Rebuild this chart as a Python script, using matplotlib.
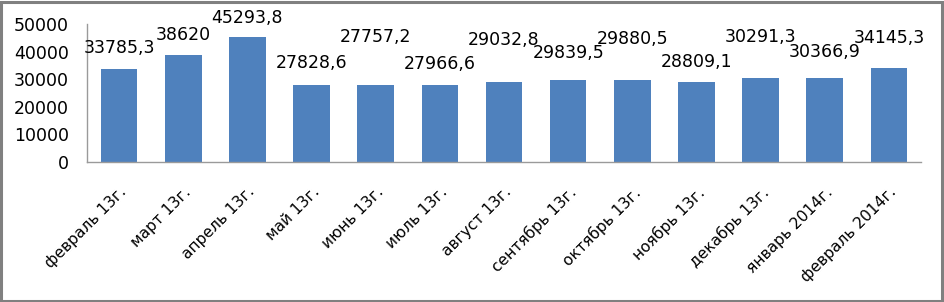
import matplotlib
matplotlib.use("Agg")
import matplotlib.pyplot as plt
from matplotlib.patches import Rectangle

categories = ["февраль 13г.", "март 13г.", "апрель 13г.", "май 13г.", "июнь 13г.",
              "июль 13г.", "август 13г.", "сентябрь 13г.", "октябрь 13г.", "ноябрь 13г.",
              "декабрь 13г.", "январь 2014г.", "февраль 2014г."]
values = [33785.3, 38620, 45293.8, 27828.6, 27757.2, 27966.6, 29032.8,
          29839.5, 29880.5, 28809.1, 30291.3, 30366.9, 34145.3]
yticks = [0, 10000, 20000, 30000, 40000, 50000]

# label offsets above bar tops (pixels) -- styling only
label_offsets = [21, 20, 19, 22, 48, 21, 42, 27, 41, 20, 41, 26, 30]

plt.rcParams['font.family'] = ['DejaVu Sans']
FS_NUM = 12.5
FS_CAT = 11.2

fig = plt.figure(figsize=(9.44, 3.02), dpi=100)
ax = fig.add_axes([87/944, 1-162/302, (921-87)/944, (162-24)/302])

x = list(range(len(values)))
ax.bar(x, values, width=0.57, color="#4F81BD", zorder=2)

def fmt(v):
    s = f"{v:.1f}"
    if s.endswith(".0"):
        s = s[:-2]
    return s.replace(".", ",")

for xi, v, off in zip(x, values, label_offsets):
    ax.annotate(fmt(v), (xi, v), xytext=(0, off), textcoords="offset pixels",
                ha="center", va="center", fontsize=FS_NUM, color="black")

ax.set_xlim(-0.5, len(values) - 0.5)
ax.set_ylim(0, 50000)
ax.set_yticks(yticks)
ax.set_yticklabels([str(t) for t in yticks], fontsize=FS_NUM)
ax.set_xticks(x)
ax.set_xticklabels(categories, rotation=45, ha="right", rotation_mode="anchor", fontsize=FS_CAT)
ax.tick_params(axis="y", length=0, pad=13)
ax.tick_params(axis="x", length=0, pad=16)

for s in ["top", "right"]:
    ax.spines[s].set_visible(False)
for s in ["left", "bottom"]:
    ax.spines[s].set_color("#9a9a9a")
    ax.spines[s].set_linewidth(1.0)

# outer chart border
fig.patches.append(Rectangle((0.0015, 0.004), 0.996, 0.991, transform=fig.transFigure,
                             fill=False, edgecolor="#808080", linewidth=2.2))

fig.savefig("out.png", dpi=100)
